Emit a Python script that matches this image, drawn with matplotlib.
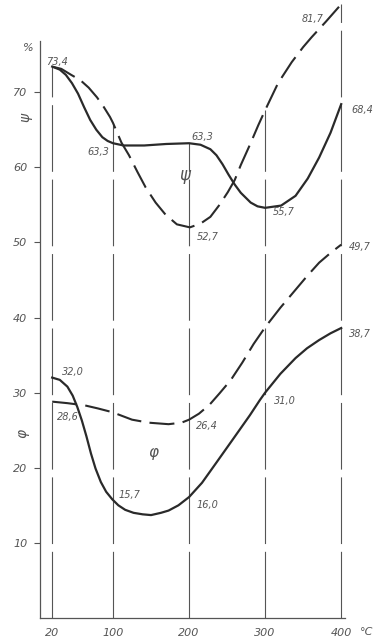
import numpy as np
import matplotlib
matplotlib.use("Agg")
import matplotlib.pyplot as plt

# === Data ===
temps = [20, 100, 200, 300, 400]
x_ticks = [20, 100, 200, 300, 400]
y_ticks = [10, 20, 30, 40, 50, 60, 70]

# psi, solid curve
psi_solid_x = [20, 30, 38, 46, 54, 62, 70, 78, 86, 93, 100, 114, 141, 170, 200, 215, 228, 236,
               244, 252, 260, 268, 281, 290, 300, 321, 340, 356, 371, 386, 400]
psi_solid_y = [73.4, 73.0, 72.3, 71.2, 69.8, 68.0, 66.3, 65.0, 64.0, 63.5, 63.2, 62.9, 62.9,
               63.1, 63.2, 63.0, 62.4, 61.6, 60.4, 59.0, 57.7, 56.6, 55.3, 54.8, 54.6, 54.9,
               56.2, 58.5, 61.3, 64.6, 68.4]

# psi, dashed curve
psi_dash_x = [20, 32, 45, 57, 68, 79, 88, 96, 100, 111, 121, 132, 143, 156, 169, 184, 201,
              215, 228, 240, 251, 260, 268, 280, 291, 300, 317, 335, 350, 361, 380, 400]
psi_dash_y = [73.4, 73.1, 72.3, 71.6, 70.6, 69.3, 68.0, 66.7, 65.9, 63.3, 61.6, 59.4, 57.3,
              55.3, 53.7, 52.4, 52.0, 52.5, 53.4, 55.0, 56.7, 58.3, 60.3, 63.0, 65.6, 67.6,
              71.2, 74.0, 76.0, 77.3, 79.4, 81.7]

# phi, solid curve
phi_solid_x = [20, 30, 40, 47, 53, 59, 65, 71, 77, 84, 91, 99, 107, 116, 127, 139, 150, 163,
               173, 186, 200, 217, 236, 257, 280, 293, 300, 320, 340, 355, 371, 386, 400]
phi_solid_y = [32.0, 31.7, 30.8, 29.6, 28.1, 26.3, 24.2, 21.9, 19.9, 18.1, 16.8, 15.8, 15.0,
               14.4, 14.0, 13.8, 13.7, 14.0, 14.3, 15.0, 16.1, 18.0, 20.7, 23.7, 27.0, 29.0,
               30.0, 32.5, 34.6, 35.9, 37.0, 37.9, 38.6]

# phi, dashed curve
phi_dash_x = [20, 40, 63, 80, 99, 125, 147, 173, 190, 200, 213, 227, 240, 255, 270, 285,
              300, 320, 340, 355, 371, 386, 400]
phi_dash_y = [28.8, 28.6, 28.3, 27.9, 27.4, 26.4, 26.0, 25.8, 26.0, 26.4, 27.2, 28.4, 29.9,
              31.7, 34.0, 36.5, 38.7, 41.3, 43.7, 45.5, 47.3, 48.6, 49.7]

# top of each vertical guide line
guide_tops = [73.4, 65.9, 63.2, 67.6, 81.7]

# value labels: text, x, y
value_texts = ["73,4", "63,3", "63,3", "52,7", "55,7", "81,7", "68,4",
               "49,7", "38,7", "31,0", "26,4", "32,0", "28,6", "15,7", "16,0"]
value_x = [26, 81, 217, 225, 324, 363, 428, 424, 424, 326, 224, 47, 41, 121, 224]
value_y = [74.0, 62.0, 64.0, 50.7, 54.0, 79.7, 67.6, 49.4, 37.8, 28.9, 25.6, 32.8, 26.8, 16.4, 15.1]

ink = "#2a2a2a"
grey = "#555555"
font = dict(family="DejaVu Sans", style="italic", color=grey)

fig = plt.figure(figsize=(3.82, 6.44), dpi=100)
W, H = 382, 644
left_px, right_px, bottom_px, top_px = 40, 345, 618, 2
ax = fig.add_axes([left_px / W, 1 - bottom_px / H,
                   (right_px - left_px) / W, (bottom_px - top_px) / H])
ax.set_xlim(4, 405)
ax.set_ylim(0, 82)

# vertical guide lines
for t, top in zip(temps, guide_tops):
    ax.plot([t, t], [0, top], color=grey, lw=0.8, dashes=(60, 7), solid_capstyle="butt")

# curves
ax.plot(psi_solid_x, psi_solid_y, color=ink, lw=1.6, solid_joinstyle="round")
ax.plot(psi_dash_x, psi_dash_y, color=ink, lw=1.5, dashes=(12, 4))
ax.plot(phi_solid_x, phi_solid_y, color=ink, lw=1.6, solid_joinstyle="round")
ax.plot(phi_dash_x, phi_dash_y, color=ink, lw=1.5, dashes=(12, 4))

for s, x, y in zip(value_texts, value_x, value_y):
    ax.text(x, y, s, fontsize=7, ha="center", va="center", clip_on=False, **font)

ax.text(195, 59.0, "ψ", fontsize=12, ha="center", va="center", **font)
ax.text(153, 22.0, "φ", fontsize=11, ha="center", va="center", **font)

# axes styling
for side in ["top", "right"]:
    ax.spines[side].set_visible(False)
ax.spines["left"].set_bounds(0, 76.8)
ax.spines["left"].set_color(grey)
ax.spines["bottom"].set_color(grey)
ax.spines["left"].set_linewidth(0.9)
ax.spines["bottom"].set_linewidth(0.9)

ax.set_yticks(y_ticks)
ax.set_yticklabels([str(v) for v in y_ticks], fontsize=8, style="italic", color=grey)
ax.set_xticks(x_ticks)
ax.set_xticklabels([str(v) for v in x_ticks], fontsize=8, style="italic", color=grey)
ax.tick_params(axis="y", direction="out", length=4, width=0.8, color=grey, pad=5)
ax.tick_params(axis="x", length=0, pad=7)

fig.text(28 / W, 1 - 48 / H, "%", fontsize=8, ha="center", va="center", **font)
fig.text(25 / W, 1 - 117 / H, "ψ", fontsize=10, ha="center", va="center", rotation=90, **font)
fig.text(22 / W, 1 - 433 / H, "φ", fontsize=10, ha="center", va="center", rotation=90, **font)
fig.text(367 / W, 1 - 632 / H, "°C", fontsize=8, ha="center", va="center", **font)

fig.savefig("out.png", dpi=100, facecolor="white")
